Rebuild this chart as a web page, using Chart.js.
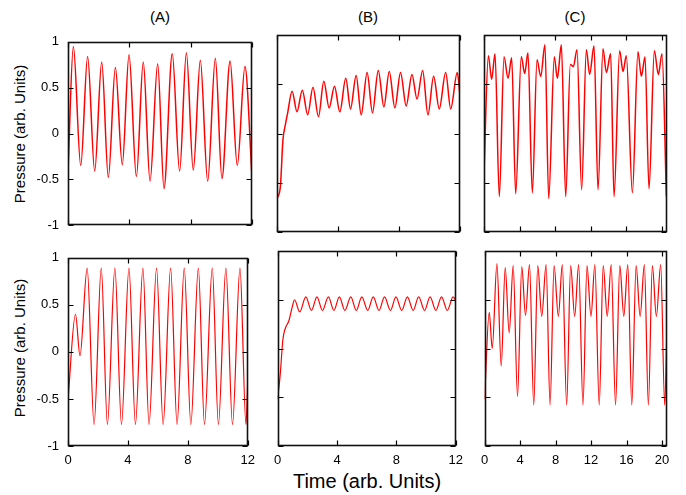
<!DOCTYPE html>
<html>
<head>
<meta charset="utf-8">
<script src="https://cdn.jsdelivr.net/npm/chart.js@4.4.1/dist/chart.umd.min.js"></script>
<style>
body { margin: 0; background: #fff; font-family: 'Liberation Sans', Arial, sans-serif; }
#page { position: relative; width: 686px; height: 495px; overflow: hidden; }
.panel { position: absolute; }
.panel canvas { display: block; }
.lbl { position: absolute; color: #000; white-space: nowrap; line-height: 1.2; }
</style>
</head>
<body>
<div id="page">
  <div class="lbl" style="left:160px; top:17px; font-size:15px; transform:translate(-50%,-50%)">(A)</div>
  <div class="lbl" style="left:368px; top:17px; font-size:15px; transform:translate(-50%,-50%)">(B)</div>
  <div class="lbl" style="left:575px; top:17px; font-size:15px; transform:translate(-50%,-50%)">(C)</div>
  <div class="lbl" style="left:20px; top:134px; font-size:15px; transform:translate(-50%,-50%) rotate(-90deg)">Pressure (arb. Units)</div>
  <div class="lbl" style="left:20px; top:348px; font-size:15px; transform:translate(-50%,-50%) rotate(-90deg)">Pressure (arb. Units)</div>
  <div class="lbl" style="left:367px; top:481px; font-size:20px; transform:translate(-50%,-50%)">Time (arb. Units)</div>
</div>
<script>
// values (peaks / troughs of each trace)
var aTopTime = [0, 0.35, 0.83, 1.28, 1.74, 2.2, 2.63, 3.09, 3.54, 3.98, 4.46, 4.91, 5.35, 5.85, 6.26, 6.8, 7.28, 7.72, 8.17, 8.63, 9.11, 9.61, 10.04, 10.57, 11.04, 11.54, 12];
var aTopP = [-0.42, 0.95, -0.35, 0.84, -0.41, 0.78, -0.48, 0.72, -0.34, 0.86, -0.47, 0.78, -0.52, 0.76, -0.60, 0.87, -0.41, 0.88, -0.40, 0.80, -0.52, 0.82, -0.49, 0.79, -0.35, 0.73, -0.47];

var bTopTime = [0, 0.22, 0.39, 0.55, 0.7, 0.99, 1.31, 1.66, 2.01, 2.36, 2.72, 3.07, 3.42, 3.77, 4.12, 4.51, 4.82, 5.19, 5.52, 5.91, 6.26, 6.64, 7.01, 7.36, 7.73, 8.1, 8.47, 8.85, 9.18, 9.55, 9.9, 10.27, 10.64, 11.06, 11.39, 11.82, 12];
var bTopP = [-0.66, -0.54, -0.065, 0.09, 0.21, 0.43, 0.22, 0.44, 0.19, 0.47, 0.17, 0.53, 0.26, 0.48, 0.22, 0.56, 0.25, 0.59, 0.19, 0.62, 0.21, 0.64, 0.27, 0.63, 0.26, 0.62, 0.28, 0.60, 0.35, 0.64, 0.19, 0.58, 0.25, 0.62, 0.25, 0.62, 0.39];

var cTopTime = [0, 0.49, 0.86, 1.24, 1.72, 2.25, 2.70, 3.11, 3.56, 4.19, 4.57, 4.94, 5.43, 5.96, 6.37, 6.85, 7.27, 7.90, 8.24, 8.69, 9.18, 9.70, 10.04, 10.45, 10.97, 11.50, 11.87, 12.36, 12.81, 13.37, 13.75, 14.23, 14.61, 15.24, 15.62, 15.99, 16.67, 17.30, 17.68, 18.09, 18.54, 19.14, 19.59, 20.0, 20.49];
var cTopP = [-0.40, 0.79, 0.55, 0.81, -0.64, 0.78, 0.56, 0.77, -0.61, 0.78, 0.61, 0.82, -0.60, 0.75, 0.58, 0.90, -0.66, 0.78, 0.56, 0.90, -0.64, 0.70, 0.68, 0.85, -0.57, 0.85, 0.60, 0.89, -0.57, 0.86, 0.62, 0.81, -0.64, 0.84, 0.63, 0.79, -0.60, 0.83, 0.58, 0.78, -0.56, 0.84, 0.60, 0.81, -0.64];

var aBotTime = [0, 0.50, 0.80, 1.28, 1.74, 2.22, 2.63, 3.13, 3.57, 4.07, 4.50, 5.00, 5.41, 5.91, 6.35, 6.85, 7.28, 7.76, 8.20, 8.70, 9.11, 9.63, 10.04, 10.54, 10.98, 11.48, 11.88, 12];
var aBotP = [-0.51, 0.40, -0.04, 0.89, -0.77, 0.89, -0.77, 0.89, -0.77, 0.89, -0.77, 0.89, -0.77, 0.89, -0.77, 0.89, -0.77, 0.89, -0.77, 0.89, -0.77, 0.89, -0.77, 0.89, -0.77, 0.89, -0.77, -0.30];

var bBotTime = [0, 0.18, 0.35, 0.48, 0.77, 0.99, 1.14, 1.49, 1.90, 2.28, 2.65, 3.02, 3.42, 3.79, 4.16, 4.53, 4.93, 5.30, 5.67, 6.07, 6.44, 6.83, 7.20, 7.60, 7.97, 8.36, 8.74, 9.13, 9.50, 9.90, 10.27, 10.66, 11.04, 11.43, 11.82, 12];
var bBotP = [-0.52, -0.26, 0.085, 0.19, 0.29, 0.43, 0.50, 0.375, 0.53, 0.39, 0.53, 0.39, 0.53, 0.39, 0.53, 0.39, 0.53, 0.39, 0.53, 0.39, 0.53, 0.39, 0.53, 0.39, 0.53, 0.39, 0.53, 0.39, 0.53, 0.39, 0.53, 0.39, 0.53, 0.39, 0.53, 0.49];

var cBotTime = [0, 0.52, 0.86, 1.39, 1.87, 2.32, 2.77, 3.22, 3.71, 4.19, 4.61, 5.06, 5.54, 5.99, 6.44, 6.93, 7.38, 7.83, 8.31, 8.76, 9.25, 9.70, 10.15, 10.60, 11.09, 11.54, 11.99, 12.43, 12.92, 13.37, 13.82, 14.27, 14.76, 15.24, 15.69, 16.14, 16.59, 17.08, 17.53, 18.01, 18.46, 18.91, 19.36, 19.85, 20.30, 20.56];
var cBotP = [-0.52, 0.37, 0.0, 0.87, -0.18, 0.83, 0.16, 0.85, -0.49,
    0.84, 0.34, 0.86, -0.58,
    0.85, 0.33, 0.86, -0.58,
    0.85, 0.33, 0.86, -0.58,
    0.85, 0.33, 0.86, -0.58,
    0.85, 0.33, 0.86, -0.58,
    0.85, 0.33, 0.86, -0.58,
    0.85, 0.33, 0.86, -0.58,
    0.85, 0.33, 0.86, -0.58,
    0.85, 0.33, 0.86, -0.58,
    0.26];

var timeTicksAB = [0, 4, 8, 12];
var timeTicksC = [0, 4, 8, 12, 16, 20];
var pressureTicks = [-1, -0.5, 0, 0.5, 1];

var FONT = "'Liberation Sans', Arial, sans-serif";

// gnuplot style frame: full border + inward ticks on all four sides
const frameTicks = {
    id: 'frameTicks',
    afterDraw(chart) {
        const ctx = chart.ctx;
        const a = chart.chartArea;
        const x = chart.scales.x;
        const y = chart.scales.y;
        const len = 5;
        const l = Math.round(a.left) + 0.5, r = Math.round(a.right) - 0.5;
        const t = Math.round(a.top) + 0.5, b = Math.round(a.bottom) - 0.5;
        ctx.save();
        ctx.strokeStyle = '#000';
        ctx.lineWidth = 1.2;
        ctx.beginPath();
        x.ticks.forEach(tk => {
            const px = Math.round(x.getPixelForValue(tk.value)) + 0.5;
            ctx.moveTo(px, b); ctx.lineTo(px, b - len);
            ctx.moveTo(px, t); ctx.lineTo(px, t + len);
        });
        y.ticks.forEach(tk => {
            const py = Math.round(y.getPixelForValue(tk.value)) + 0.5;
            ctx.moveTo(l, py); ctx.lineTo(l + len, py);
            ctx.moveTo(r, py); ctx.lineTo(r - len, py);
        });
        ctx.stroke();
        ctx.strokeStyle = '#111';
        ctx.lineWidth = 1.6;
        ctx.strokeRect(l, t, r - l, b - t);
        ctx.restore();
    }
};

function panel(box, times, values, xMax, xTicks, showX, showY, lw) {
    var yW = showY ? box.left : 10;
    var xH = showX ? 30 : 10;
    var padTop = 10, padRight = 10;
    var w = yW + (box.right - box.left) + padRight;
    var h = padTop + (box.bottom - box.top) + xH;

    var div = document.createElement('div');
    div.className = 'panel';
    div.style.left = (box.left - yW) + 'px';
    div.style.top = (box.top - padTop) + 'px';
    div.style.width = w + 'px';
    div.style.height = h + 'px';
    var cv = document.createElement('canvas');
    cv.width = w;
    cv.height = h;
    cv.style.width = w + 'px';
    cv.style.height = h + 'px';
    div.appendChild(cv);
    document.getElementById('page').appendChild(div);

    var pts = times.map((t, i) => ({ x: t, y: values[i] }));

    return new Chart(cv, {
        type: 'line',
        data: {
            datasets: [{
                data: pts,
                borderColor: '#ff0000',
                borderWidth: lw,
                pointRadius: 0,
                fill: false,
                cubicInterpolationMode: 'monotone'
            }]
        },
        options: {
            responsive: false,
            animation: false,
            devicePixelRatio: 1,
            layout: { padding: { top: padTop, right: padRight, left: 0, bottom: 0 } },
            plugins: { legend: { display: false }, tooltip: { enabled: false } },
            scales: {
                x: {
                    type: 'linear', min: 0, max: xMax,
                    afterBuildTicks: s => { s.ticks = xTicks.map(v => ({ value: v })); },
                    afterFit: s => { s.height = xH; },
                    grid: { display: false, drawTicks: false },
                    border: { display: false },
                    ticks: { display: showX, color: '#000', padding: 7, maxRotation: 0, autoSkip: false,
                        font: { family: FONT, size: 13 }, callback: v => String(v) }
                },
                y: {
                    min: -1, max: 1,
                    afterBuildTicks: s => { s.ticks = pressureTicks.map(v => ({ value: v })); },
                    afterFit: s => { s.width = yW; },
                    grid: { display: false, drawTicks: false },
                    border: { display: false },
                    ticks: { display: showY, color: '#000', padding: 9,
                        font: { family: FONT, size: 13 }, callback: v => String(v) }
                }
            }
        },
        plugins: [frameTicks]
    });
}

var top1 = { top: 35, bottom: 232 };
var top2 = { top: 251, bottom: 446 };
var colA = { left: 68, right: 252 };
var colB = { left: 277, right: 460 };
var colC = { left: 484, right: 667 };

function box(c, r) { return { left: c.left, right: c.right, top: r.top, bottom: r.bottom }; }

panel(box(colA, top1), aTopTime, aTopP, 12, timeTicksAB, false, true, 1.5);
panel(box(colB, top1), bTopTime, bTopP, 12, timeTicksAB, false, false, 1.5);
panel(box(colC, top1), cTopTime, cTopP, 20.56, timeTicksC, false, false, 1.5);
panel(box(colA, top2), aBotTime, aBotP, 12, timeTicksAB, true, true, 1.2);
panel(box(colB, top2), bBotTime, bBotP, 12, timeTicksAB, true, false, 1.2);
panel(box(colC, top2), cBotTime, cBotP, 20.56, timeTicksC, true, false, 1.2);
</script>
</body>
</html>
